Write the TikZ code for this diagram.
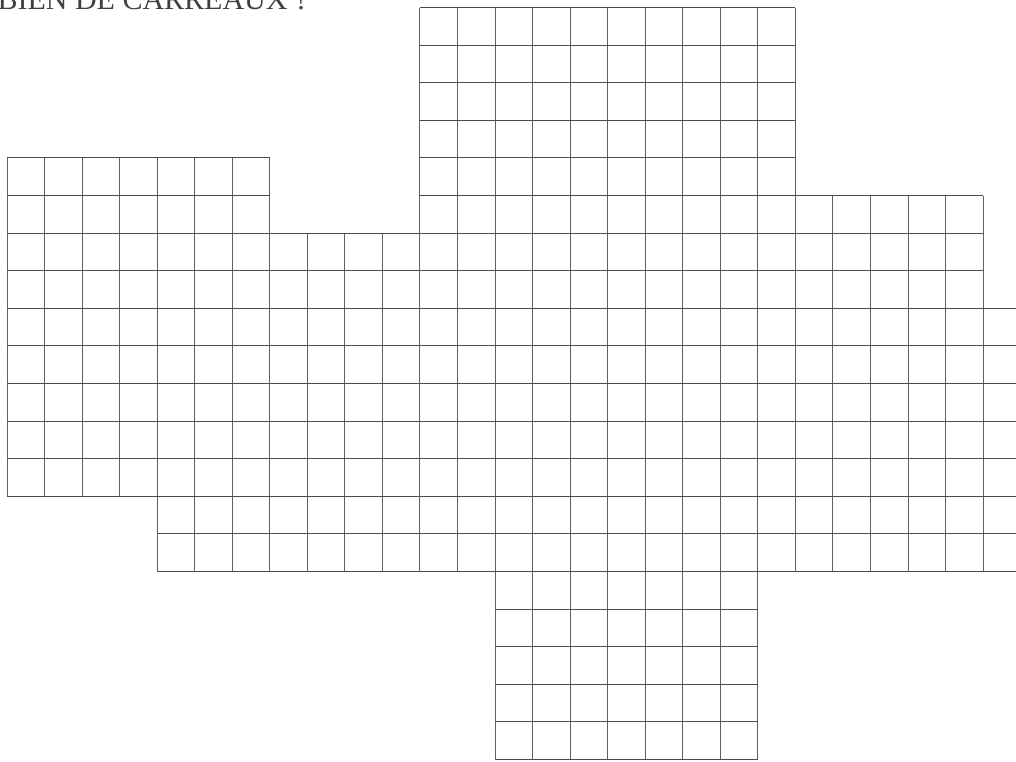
\documentclass[tikz,border=0pt]{standalone}
\usepackage{fontspec}
\setmainfont{Liberation Serif}
\begin{document}
\begin{tikzpicture}[
  gridline/.style={draw=black!62, line width=0.9pt},
  hline/.style={draw=black!70, line width=1.0pt},
  titletext/.style={font=\fontsize{30pt}{36pt}\selectfont, text=black!75, inner sep=0pt, anchor=base west}
]
\useasboundingbox (0pt,0pt) rectangle (1016pt,-761pt);
\clip (0pt,0pt) rectangle (1016pt,-761pt);
\node[titletext] (title) at (-71pt,-9pt) {COMBIEN DE CARREAUX ?};
\begin{scope}[shift={(7pt,-7.5pt)}, x={(37.54pt,0pt)}, y={(0pt,-37.6pt)}]
  % regions: col1/row1/col2/row2
  \foreach \a/\b/\c/\d in {11/0/21/5, 0/4/7/13, 7/6/11/15, 4/13/7/15, 11/5/21/15, 21/5/26/15, 26/8/28/15, 13/15/20/20}{
    \foreach \i in {\a,...,\c} \draw[gridline] (\i,\b) -- (\i,\d);
    \foreach \j in {\b,...,\d} \draw[hline] (\a,\j) -- (\c,\j);
  }
\end{scope}
\end{tikzpicture}
\end{document}
